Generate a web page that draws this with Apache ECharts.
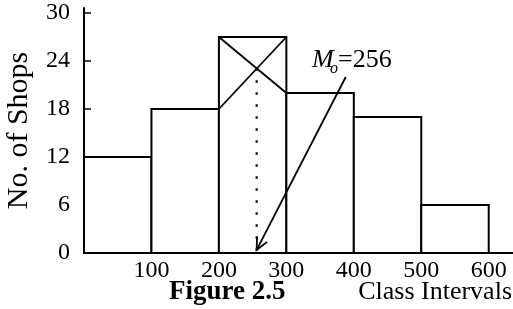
<!DOCTYPE html>
<html>
<head>
<meta charset="utf-8">
<script src="https://cdn.jsdelivr.net/npm/echarts@6/dist/echarts.min.js"></script>
<style>
  html, body { margin: 0; padding: 0; background: #fff; }
  #main { width: 513px; height: 309px; }
</style>
</head>
<body>
<div id="main"></div>
<script>
    // class intervals and frequencies
    const classStarts = [0, 100, 200, 300, 400, 500];
    const classEnds = [100, 200, 300, 400, 500, 600];
    const shops = [12, 18, 27, 20, 17, 6];

    const xTickLabels = [100, 200, 300, 400, 500, 600];
    const yTickLabels = [0, 6, 12, 18, 24, 30];
    const yTickMarks = [6, 12, 18, 24, 30];

    const modeValue = 256;
    const arrowFrom = [388, 22];
    const arrowTo = [256, 0.4];

    const font = '"Liberation Serif", "Times New Roman", serif';
    const modal = 2;

    // diagonals of the modal bar
    const diag1 = [[classStarts[modal], shops[modal]], [classEnds[modal], shops[modal + 1]]];
    const diag2 = [[classEnds[modal], shops[modal]], [classStarts[modal], shops[modal - 1]]];
    const slope = (diag1[1][1] - diag1[0][1]) / (diag1[1][0] - diag1[0][0]);
    const crossY = diag1[0][1] + slope * (modeValue - diag1[0][0]);

    const chart = echarts.init(document.getElementById('main'));

    const option = {
        animation: false,
        backgroundColor: '#fff',
        grid: { left: 84, top: 8, right: 0, bottom: 56, containLabel: false, outerBoundsMode: 'none' },
        xAxis: {
            type: 'value',
            min: 0,
            max: 636,
            splitLine: { show: false },
            axisTick: { show: false },
            axisLine: { lineStyle: { color: '#000', width: 2 } },
            axisLabel: {
                customValues: xTickLabels,
                color: '#000',
                fontFamily: font,
                fontSize: 24,
                margin: 6
            }
        },
        yAxis: {
            type: 'value',
            min: 0,
            max: 30.625,
            name: 'No. of Shops',
            nameLocation: 'middle',
            nameRotate: 90,
            nameGap: 50,
            nameTextStyle: { color: '#000', fontFamily: font, fontSize: 30 },
            splitLine: { show: false },
            axisLine: { show: true, lineStyle: { color: '#000', width: 2 } },
            axisTick: {
                show: true,
                inside: true,
                length: 7,
                customValues: yTickMarks,
                lineStyle: { color: '#000', width: 1.5 }
            },
            axisLabel: {
                customValues: yTickLabels,
                color: '#000',
                fontFamily: font,
                fontSize: 24,
                margin: 14
            }
        },
        series: [
            {
                type: 'custom',
                data: classStarts.map((s, i) => [s, classEnds[i], shops[i]]),
                encode: { x: [0, 1], y: 2 },
                renderItem: (params, api) => {
                    const topLeft = api.coord([api.value(0), api.value(2)]);
                    const bottomRight = api.coord([api.value(1), 0]);
                    return {
                        type: 'rect',
                        shape: {
                            x: topLeft[0],
                            y: topLeft[1],
                            width: bottomRight[0] - topLeft[0],
                            height: bottomRight[1] - topLeft[1]
                        },
                        style: { fill: '#fff', stroke: '#000', lineWidth: 2 }
                    };
                }
            },
            {
                type: 'line',
                data: diag1,
                symbol: 'none',
                lineStyle: { color: '#000', width: 1.8 }
            },
            {
                type: 'line',
                data: diag2,
                symbol: 'none',
                lineStyle: { color: '#000', width: 1.8 }
            },
            {
                type: 'line',
                data: [[modeValue, crossY], [modeValue, 0]],
                symbol: 'none',
                lineStyle: { color: '#000', width: 2.2, type: [2.5, 9.5] }
            },
            {
                type: 'custom',
                data: [[arrowFrom[0], arrowFrom[1], arrowTo[0], arrowTo[1]]],
                encode: { x: [0, 2], y: [1, 3] },
                renderItem: (params, api) => {
                    const a = api.coord([api.value(0), api.value(1)]);
                    const b = api.coord([api.value(2), api.value(3)]);
                    const ang = Math.atan2(a[1] - b[1], a[0] - b[0]);
                    const len = 13, spread = 0.45;
                    const p1 = [b[0] + len * Math.cos(ang + spread), b[1] + len * Math.sin(ang + spread)];
                    const p2 = [b[0] + len * Math.cos(ang - spread), b[1] + len * Math.sin(ang - spread)];
                    return {
                        type: 'group',
                        children: [
                            { type: 'line', shape: { x1: a[0], y1: a[1], x2: b[0], y2: b[1] },
                              style: { stroke: '#000', lineWidth: 1.8 } },
                            { type: 'polyline', shape: { points: [p1, b, p2] },
                              style: { stroke: '#000', lineWidth: 1.8, fill: null } }
                        ]
                    };
                }
            }
        ],
        graphic: [
            { type: 'text', left: 312, top: 47,
              style: { text: 'M', font: 'italic 26px ' + font, fill: '#000' } },
            { type: 'text', left: 330, top: 61,
              style: { text: 'o', font: 'italic 16px ' + font, fill: '#000' } },
            { type: 'text', left: 338, top: 47,
              style: { text: '=256', font: '26px ' + font, fill: '#000' } },
            { type: 'text', left: 169, top: 279,
              style: { text: 'Figure 2.5', font: 'bold 27px ' + font, fill: '#000' } },
            { type: 'text', right: 1, top: 279,
              style: { text: 'Class Intervals', font: '26px ' + font, fill: '#000' } }
        ]
    };

    chart.setOption(option);
</script>
</body>
</html>
